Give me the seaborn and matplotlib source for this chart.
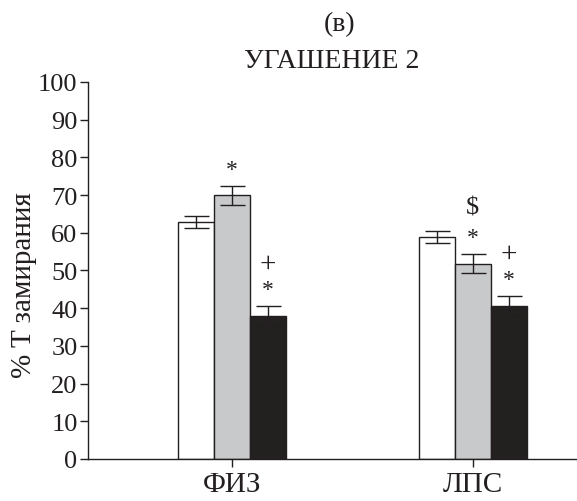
import matplotlib
matplotlib.use("Agg")
import matplotlib.pyplot as plt
import seaborn as sns
import pandas as pd

categories = ["ФИЗ", "ЛПС"]
groups = ["группа 1", "группа 2", "группа 3"]
values_g1 = [62.8, 58.8]
values_g2 = [70.0, 51.8]
values_g3 = [38.0, 40.7]
errors_g1 = [1.6, 1.6]
errors_g2 = [2.5, 2.5]
errors_g3 = [2.6, 2.6]
marks_g1 = [[], []]
marks_g2 = [["*"], ["*", "$"]]
marks_g3 = [["*", "+"], ["*", "+"]]
yticks = [0, 10, 20, 30, 40, 50, 60, 70, 80, 90, 100]
colors = ["#ffffff", "#c8c9cb", "#231f20"]
INK = "#231f20"

sns.set_style("ticks")
plt.rcParams["font.family"] = ["Liberation Serif", "DejaVu Serif"]
plt.rcParams["mathtext.default"] = "regular"

rows = []
for g, vals, errs, mks in zip(groups, [values_g1, values_g2, values_g3],
                              [errors_g1, errors_g2, errors_g3],
                              [marks_g1, marks_g2, marks_g3]):
    for c, v, e, m in zip(categories, vals, errs, mks):
        rows.append({"cat": c, "grp": g, "val": v, "err": e, "mark": m})
df = pd.DataFrame(rows)

fig = plt.figure(figsize=(5.77, 5.02), dpi=100)
ax = fig.add_axes([0.1525, 0.0837, 0.8475, 0.751])

sns.barplot(data=df, x="cat", y="val", hue="grp", order=categories,
            hue_order=groups, palette=colors, edgecolor=INK,
            linewidth=1.0, width=0.45, errorbar=None, legend=False, ax=ax)

# stacking offsets (data units above error-bar top) and sizes of marks
offsets = {"*": 4.4, "+": 11.2, "$": 12.4}
sizes = {"*": 17, "+": 21, "$": 19}

patches = [p for p in ax.patches if p.get_height() > 0]
for gi, g in enumerate(groups):
    for ci, c in enumerate(categories):
        p = patches[gi * len(categories) + ci]
        r = df[(df.grp == g) & (df.cat == c)].iloc[0]
        xc = p.get_x() + p.get_width() / 2
        ax.errorbar(xc, r.val, yerr=r.err, fmt="none", ecolor=INK,
                    elinewidth=1.0, capsize=9, capthick=1.0, zorder=5)
        for m in r.mark:
            ax.text(xc, r.val + r.err + offsets[m], m.replace("$", r"\$"),
                    ha="center", va="center", fontsize=sizes[m], color=INK)

ax.set_xlim(-0.598, 1.432)
ax.set_ylim(0, 100)
ax.set_yticks(yticks)
ax.set_yticklabels([str(t) for t in yticks], fontsize=19)
ax.set_xticks([0, 1])
ax.set_xticklabels(categories, fontsize=21)
ax.tick_params(axis="both", direction="out", length=6, width=1.0,
               colors=INK, labelcolor=INK)
ax.tick_params(axis="y", pad=1.5)
ax.tick_params(axis="x", pad=3)
ax.set_xlabel("")
ax.set_ylabel("% T замирания", fontsize=21, color=INK)
ax.yaxis.set_label_coords(-0.104, 0.464)
for s in ["top", "right"]:
    ax.spines[s].set_visible(False)
for s in ["left", "bottom"]:
    ax.spines[s].set_linewidth(1.0)
    ax.spines[s].set_color(INK)

fig.text(0.589, 0.950, "(в)", ha="center", va="center", fontsize=20, color=INK)
fig.text(0.575, 0.8765, "УГАШЕНИЕ 2", ha="center", va="center", fontsize=20, color=INK)

fig.savefig("out.png", dpi=100)
